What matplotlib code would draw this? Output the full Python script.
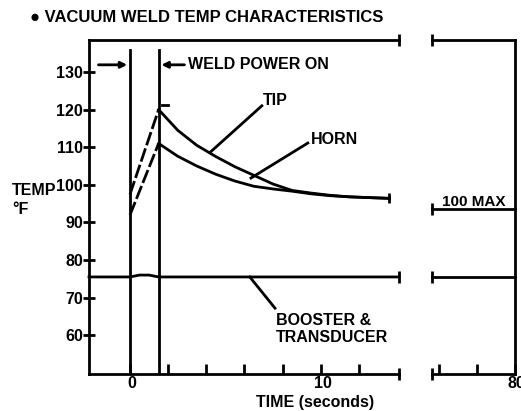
import matplotlib.pyplot as plt

plt.rcParams['font.family'] = ['Liberation Sans', 'DejaVu Sans']
plt.rcParams['font.weight'] = 'bold'

# data
tip_t = [0, 1.5, 2.5, 3.5, 4.5, 5.5, 6.5, 7.5, 8.5, 9.5, 10.5, 11.5, 12.5, 13.6]
tip_T = [97.5, 120, 114.5, 110.5, 107.5, 104.8, 102.5, 100.2, 98.5, 97.8, 97.2, 96.8, 96.6, 96.4]
horn_T = [92, 111, 107.6, 105, 102.8, 101, 99.6, 98.9, 98.3, 97.6, 97.1, 96.8, 96.6, 96.4]
booster_t = [-2.15, 0, 0.5, 1.0, 1.5, 14.1]
booster_T = [75.5, 75.5, 76.0, 76.0, 75.5, 75.5]
booster_T_late = 75.5
max_line_T = 93.6
weld_on = [0, 1.5]
yticks = [60, 70, 80, 90, 100, 110, 120, 130]
xticks_main = [0, 2, 4, 6, 8, 10, 12]
xticks_late = [76, 78, 80]

ylo, yhi = 49.7, 138.5
W, H = 521, 411
fs = 11.5
fig = plt.figure(figsize=(W / 100, H / 100), dpi=100)

def box(x0, x1, ytop, ybot):
    return [x0 / W, 1 - ybot / H, (x1 - x0) / W, (ybot - ytop) / H]

ax = fig.add_axes(box(89, 399, 40, 374))
ax2 = fig.add_axes(box(432, 515, 40, 374))
lw = 2.0
for a in (ax, ax2):
    a.set_ylim(ylo, yhi)
    for s in a.spines.values():
        s.set_linewidth(lw)
ax.set_xlim(-2.15, 14.1)
ax2.set_xlim(75.65, 80)
ax.spines['right'].set_visible(False)
ax2.spines['left'].set_visible(False)

# y axis
ax.set_yticks(yticks)
ax.set_yticklabels([str(v) for v in yticks], fontsize=fs, fontweight='bold')
ax.tick_params(axis='y', direction='inout', length=9, width=2, pad=0)
ax2.set_yticks([])

# x axis
ax.set_xticks(xticks_main)
ax.set_xticklabels([''] * len(xticks_main))
ax.tick_params(axis='x', direction='in', length=7, width=2)
ax2.set_xticks(xticks_late)
ax2.set_xticklabels([''] * len(xticks_late))
ax2.tick_params(axis='x', direction='in', length=7, width=2)

# curves
ax.plot(tip_t[:2], tip_T[:2], color='k', lw=lw, ls=(0, (5, 1.2)))
ax.plot(tip_t[1:], tip_T[1:], color='k', lw=lw)
ax.plot(tip_t[:2], horn_T[:2], color='k', lw=lw, ls=(0, (5, 1.2)))
ax.plot(tip_t[1:], horn_T[1:], color='k', lw=lw)
ax.plot(tip_t[-1], tip_T[-1], marker='|', ms=7, mew=2, color='k')
ax.plot(booster_t, booster_T, color='k', lw=lw, clip_on=False)
ax2.plot([75.65, 80], [booster_T_late] * 2, color='k', lw=lw, clip_on=False)
ax2.plot([75.65, 80], [max_line_T] * 2, color='k', lw=lw, clip_on=False)
ax.plot([1.7, 2.0], [121.3, 121.3], color='k', lw=lw)

# break marks
for yy in (yhi, ylo, booster_T_late):
    ax.plot(14.1, yy, marker='|', ms=8, mew=2, color='k', clip_on=False)
for yy in (yhi, ylo, booster_T_late, max_line_T):
    ax2.plot(75.65, yy, marker='|', ms=8, mew=2, color='k', clip_on=False)

# weld power on markers
for t in weld_on:
    ax.plot([t, t], [ylo, 135.9], color='k', lw=lw)
ax.annotate('', xy=(0, 131.9), xytext=(-1.8, 131.9),
            arrowprops=dict(arrowstyle='-|>', lw=lw, color='k', mutation_scale=9))
ax.annotate('', xy=(1.5, 131.9), xytext=(3.0, 131.9),
            arrowprops=dict(arrowstyle='-|>', lw=lw, color='k', mutation_scale=9))
ax.text(3.05, 131.9, 'WELD POWER ON', fontsize=fs, fontweight='bold', va='center')

# leaders and labels
ax.plot([6.91, 4.19], [121.0, 108.6], color='k', lw=lw)
ax.text(6.95, 122.3, 'TIP', fontsize=fs, fontweight='bold', va='center')
ax.plot([9.32, 6.34], [111.1, 101.8], color='k', lw=lw)
ax.text(9.5, 112.0, 'HORN', fontsize=fs, fontweight='bold', va='center')
ax.plot([6.28, 7.6], [75.5, 67.2], color='k', lw=lw)
ax.text(7.64, 64.0, 'BOOSTER &', fontsize=fs, fontweight='bold', va='center')
ax.text(7.64, 59.3, 'TRANSDUCER', fontsize=fs, fontweight='bold', va='center')
ax2.text(76.15, 95.5, '100 MAX', fontsize=11, fontweight='bold', va='center')

fig.text(132 / W, 1 - 383 / H, '0', fontsize=fs, fontweight='bold', ha='center', va='center')
fig.text(323 / W, 1 - 383 / H, '10', fontsize=fs, fontweight='bold', ha='center', va='center')
fig.text(516 / W, 1 - 383 / H, '80', fontsize=fs, fontweight='bold', ha='center', va='center')
fig.text(315 / W, 1 - 402 / H, 'TIME (seconds)', fontsize=fs, fontweight='bold', ha='center', va='center')
fig.text(12 / W, 1 - 190 / H, 'TEMP', fontsize=fs, fontweight='bold', va='center')
fig.text(12 / W, 1 - 209 / H, '°F', fontsize=fs, fontweight='bold', va='center')
fig.text(30 / W, 1 - 17 / H, '● VACUUM WELD TEMP CHARACTERISTICS', fontsize=12,
         fontweight='bold', va='center')

fig.savefig('out.png', dpi=100)
